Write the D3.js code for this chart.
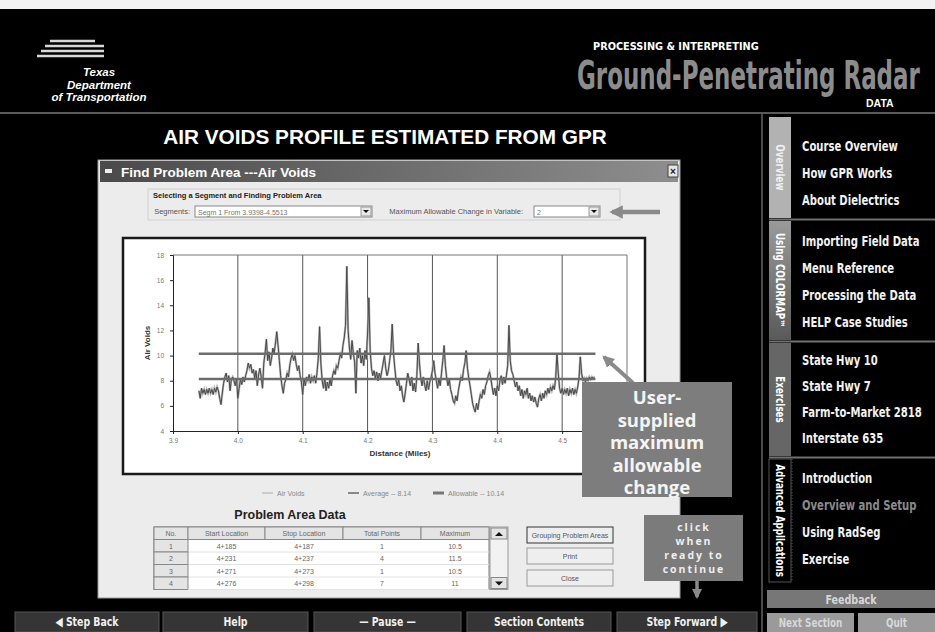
<!DOCTYPE html>
<html><head><meta charset="utf-8">
<script src="https://cdn.jsdelivr.net/npm/d3@7"></script>
<style>
html,body{margin:0;padding:0;background:#000;}
svg{display:block;}
</style></head>
<body><svg id="c" width="935" height="632"></svg>
<script>
// ---------------- DATA ----------------
const chartTitle = "AIR VOIDS PROFILE ESTIMATED FROM GPR";
const dialogTitle = "Find Problem Area ---Air Voids";
const segmentLabel = "Segm 1  From 3.9398-4.5513";
const segmentStart = 3.9398, segmentEnd = 4.5513;
const averageValue = 8.14;
const maxAllowableChange = 2;
const allowableValue = 10.14;
const xTicks = [3.9, 4.0, 4.1, 4.2, 4.3, 4.4, 4.5];
const yTicks = [4, 6, 8, 10, 12, 14, 16, 18];
const airVoidsProfile = [
[3.940,7.2],[3.942,6.6],[3.944,7.4],[3.946,7.0],[3.948,7.3],[3.950,6.9],[3.952,7.3],[3.954,7.0],[3.956,7.4],[3.958,7.0],
[3.960,7.3],[3.962,6.9],[3.964,7.4],[3.966,7.1],[3.968,7.5],[3.970,7.2],[3.972,6.6],[3.974,6.1],[3.976,7.0],[3.978,7.8],
[3.980,8.3],[3.982,8.6],[3.984,7.9],[3.986,8.4],[3.988,7.2],[3.990,8.1],[3.992,8.3],[3.994,8.0],[3.996,7.6],[3.998,8.2],
[4.000,6.6],[4.002,7.4],[4.004,8.1],[4.006,7.7],[4.008,8.3],[4.010,7.9],[4.012,8.4],[4.014,8.8],[4.016,9.4],[4.018,9.0],
[4.020,9.3],[4.022,8.6],[4.024,8.9],[4.026,8.2],[4.028,8.8],[4.030,7.6],[4.032,8.5],[4.034,9.0],[4.036,8.3],[4.038,7.4],
[4.040,9.4],[4.042,10.2],[4.044,11.3],[4.046,9.6],[4.048,10.3],[4.050,9.2],[4.052,9.8],[4.054,10.6],[4.056,10.2],[4.058,11.0],
[4.060,11.9],[4.062,10.8],[4.064,9.6],[4.066,8.4],[4.068,7.6],[4.070,7.0],[4.072,7.8],[4.074,8.1],[4.076,8.6],[4.078,8.3],
[4.080,9.2],[4.082,9.8],[4.084,10.1],[4.086,9.6],[4.088,10.0],[4.090,9.3],[4.092,8.8],[4.094,9.2],[4.096,8.4],[4.098,7.9],
[4.100,6.9],[4.102,8.2],[4.104,7.6],[4.106,8.3],[4.108,8.0],[4.110,8.5],[4.112,7.8],[4.114,8.3],[4.116,8.0],[4.118,8.4],
[4.120,7.8],[4.122,8.6],[4.124,9.8],[4.126,12.3],[4.128,9.4],[4.130,8.0],[4.132,7.4],[4.134,8.2],[4.136,7.2],[4.138,7.9],
[4.140,7.4],[4.142,8.1],[4.144,7.6],[4.146,8.4],[4.148,8.8],[4.150,8.5],[4.152,9.2],[4.154,9.0],[4.156,9.6],[4.158,10.1],
[4.160,9.8],[4.162,10.8],[4.164,11.4],[4.166,12.4],[4.168,17.1],[4.170,12.0],[4.172,10.6],[4.174,9.7],[4.176,11.2],[4.178,10.2],
[4.180,9.5],[4.182,7.0],[4.184,10.4],[4.186,9.8],[4.188,10.6],[4.190,9.4],[4.192,10.0],[4.194,9.2],[4.196,10.4],[4.198,9.7],
[4.200,11.8],[4.202,14.6],[4.204,10.4],[4.206,9.0],[4.208,8.4],[4.210,8.8],[4.212,8.2],[4.214,8.7],[4.216,8.0],[4.218,8.6],
[4.220,8.2],[4.222,8.8],[4.224,9.4],[4.226,10.0],[4.228,9.0],[4.230,8.4],[4.232,8.8],[4.234,9.6],[4.236,10.4],[4.238,12.5],
[4.240,10.2],[4.242,9.0],[4.244,8.0],[4.246,7.6],[4.248,8.1],[4.250,7.2],[4.252,7.6],[4.254,6.8],[4.256,6.3],[4.258,7.0],
[4.260,7.8],[4.262,8.6],[4.264,8.1],[4.266,7.6],[4.268,8.3],[4.270,7.2],[4.272,7.8],[4.274,7.1],[4.276,8.4],[4.278,11.0],
[4.280,9.4],[4.282,8.2],[4.284,7.6],[4.286,8.3],[4.288,7.7],[4.290,7.2],[4.292,8.0],[4.294,7.3],[4.296,7.9],[4.298,8.3],
[4.300,8.8],[4.302,9.6],[4.304,8.6],[4.306,8.0],[4.308,7.4],[4.310,8.2],[4.312,7.6],[4.314,8.6],[4.316,9.6],[4.318,10.8],
[4.320,9.2],[4.322,8.2],[4.324,7.6],[4.326,8.1],[4.328,7.3],[4.330,6.9],[4.332,6.4],[4.334,6.2],[4.336,6.8],[4.338,6.4],
[4.340,7.2],[4.342,7.8],[4.344,8.3],[4.346,8.0],[4.348,8.9],[4.350,9.4],[4.352,10.4],[4.354,9.0],[4.356,8.2],[4.358,7.6],
[4.360,6.9],[4.362,6.2],[4.364,5.8],[4.366,5.5],[4.368,6.2],[4.370,5.7],[4.372,6.4],[4.374,6.9],[4.376,6.6],[4.378,7.3],
[4.380,6.9],[4.382,7.6],[4.384,7.9],[4.386,8.4],[4.388,8.7],[4.390,8.2],[4.392,7.5],[4.394,6.9],[4.396,7.4],[4.398,6.8],
[4.400,7.6],[4.402,7.2],[4.404,8.0],[4.406,8.4],[4.408,7.7],[4.410,8.3],[4.412,7.8],[4.414,8.4],[4.416,9.2],[4.418,12.4],
[4.420,9.6],[4.422,8.8],[4.424,8.5],[4.426,8.0],[4.428,7.5],[4.430,7.9],[4.432,7.2],[4.434,7.6],[4.436,6.8],[4.438,7.3],
[4.440,6.6],[4.442,7.2],[4.444,6.9],[4.446,7.4],[4.448,6.6],[4.450,7.0],[4.452,6.4],[4.454,6.8],[4.456,6.3],[4.458,6.7],
[4.460,6.2],[4.462,5.9],[4.464,6.6],[4.466,6.9],[4.468,6.4],[4.470,7.0],[4.472,6.6],[4.474,7.2],[4.476,6.9],[4.478,7.4],
[4.480,7.0],[4.482,7.5],[4.484,7.2],[4.486,7.6],[4.488,7.3],[4.490,8.2],[4.492,10.2],[4.494,8.6],[4.496,7.4],[4.498,7.0],
[4.500,7.4],[4.502,6.9],[4.504,7.3],[4.506,7.0],[4.508,7.4],[4.510,6.8],[4.512,7.3],[4.514,7.0],[4.516,7.4],[4.518,6.9],
[4.520,7.3],[4.522,7.0],[4.524,7.5],[4.526,8.2],[4.528,9.9],[4.530,8.6],[4.532,8.0],[4.534,8.2],[4.536,7.9],[4.538,8.2],
[4.540,8.0],[4.542,8.3],[4.544,8.1],[4.546,8.3],[4.548,8.2],[4.550,8.3]
];
const tableColumns = ["No.", "Start Location", "Stop Location", "Total Points", "Maximum"];
const tableRows = [
  ["1", "4+185", "4+187", "1", "10.5"],
  ["2", "4+231", "4+237", "4", "11.5"],
  ["3", "4+271", "4+273", "1", "10.5"],
  ["4", "4+276", "4+298", "7", "11"]
];
const dialogButtons = ["Grouping Problem Areas", "Print", "Close"];
const navButtons = ["\u25C0 Step Back", "Help", "\u2014 Pause \u2014", "Section Contents", "Step Forward \u25B6"];
const sideTabs = ["Overview", "Using COLORMAP\u2122", "Exercises", "Advanced Applications"];
const overviewItems = ["Course Overview", "How GPR Works", "About Dielectrics"];
const colormapItems = ["Importing Field Data", "Menu Reference", "Processing the Data", "HELP Case Studies"];
const exerciseItems = ["State Hwy 10", "State Hwy 7", "Farm-to-Market 2818", "Interstate 635"];
const advancedItems = ["Introduction", "Overview and Setup", "Using RadSeg", "Exercise"];
const annotationLines = ["User-", "supplied", "maximum", "allowable", "change"];
const continueLines = ["click", "when", "ready to", "continue"];
const logoLines = ["Texas", "Department", "of Transportation"];

// ---------------- DRAWING ----------------
const COND = "'Liberation Sans Narrow','Arial Narrow','DejaVu Sans Condensed',sans-serif";
const SANS = "'Liberation Sans',Arial,'DejaVu Sans',sans-serif";
const svg = d3.select("#c");

// horizontally squeezed text (emulates a condensed face)
function sq(parent, txt, x, y, opts) {
  const t = parent.append("text").attr("x", 0).attr("y", 0)
    .attr("font-family", opts.family || COND).attr("font-weight", opts.weight || "bold")
    .attr("font-size", opts.size).attr("fill", opts.fill || "#fff")
    .attr("text-anchor", opts.anchor || "start").text(txt);
  let s = opts.scale || 1;
  if (opts.width) s = opts.width / t.node().getComputedTextLength();
  if (opts.max) s = Math.min(s, opts.max / t.node().getComputedTextLength());
  t.attr("transform", `translate(${x},${y}) scale(${s},1)`);
  return t;
}

const defs = svg.append("defs");
const tg = defs.append("linearGradient").attr("id", "tbar").attr("x1", 0).attr("x2", 1);
tg.append("stop").attr("offset", 0).attr("stop-color", "#4a4a4a");
tg.append("stop").attr("offset", 1).attr("stop-color", "#8e8e8e");
const cg = defs.append("linearGradient").attr("id", "cmap").attr("x1", 0).attr("x2", 0).attr("y1", 0).attr("y2", 1);
cg.append("stop").attr("offset", 0).attr("stop-color", "#9a9a9a");
cg.append("stop").attr("offset", 1).attr("stop-color", "#5a5a5a");
const ah = defs.append("marker").attr("id", "ah").attr("viewBox", "0 0 10 10").attr("refX", 8).attr("refY", 5)
  .attr("markerWidth", 3).attr("markerHeight", 3).attr("orient", "auto");
ah.append("path").attr("d", "M0,0L10,5L0,10z").attr("fill", "#8a8a8a");

// background
svg.append("rect").attr("width", 935).attr("height", 632).attr("fill", "#000");
svg.append("rect").attr("width", 935).attr("height", 9).attr("fill", "#f2f2f2");
svg.append("line").attr("x1", 0).attr("x2", 935).attr("y1", 113).attr("y2", 113).attr("stroke", "#5a5a5a").attr("stroke-width", 2);

// header logo
[[50, 95, 41], [45, 104, 46], [41, 104, 51], [37, 104, 56]].forEach(([a, b, y]) =>
  svg.append("line").attr("x1", a).attr("x2", b).attr("y1", y).attr("y2", y).attr("stroke", "#d8d8d8").attr("stroke-width", 2.5));
svg.selectAll("text.logo").data(logoLines).join("text").attr("class", "logo")
  .attr("x", 99).attr("y", (d, i) => 76 + i * 12.5).attr("text-anchor", "middle")
  .attr("fill", "#fff").attr("font-family", SANS).attr("font-weight", "bold").attr("font-style", "italic")
  .attr("font-size", 11.5).text(d => d);

sq(svg, "PROCESSING & INTERPRETING", 593, 50, { size: 11, width: 166 });
sq(svg, "Ground-Penetrating Radar", 577, 89, { size: 39, width: 343, fill: "#8c8c8c" });
svg.append("text").attr("x", 866).attr("y", 107).attr("fill", "#fff").attr("font-family", SANS)
  .attr("font-weight", "bold").attr("font-size", 10.5).text("DATA");

// page title
sq(svg, chartTitle, 385, 144, { family: SANS, size: 19.5, width: 444, anchor: "middle" });

// ---------------- dialog ----------------
svg.append("rect").attr("x", 98).attr("y", 160).attr("width", 582).attr("height", 438)
  .attr("fill", "#ececec").attr("stroke", "#9a9a9a");
svg.append("rect").attr("x", 100).attr("y", 161).attr("width", 578).attr("height", 21).attr("fill", "url(#tbar)");
svg.append("rect").attr("x", 105).attr("y", 169).attr("width", 7).attr("height", 4).attr("fill", "#eee");
svg.append("text").attr("x", 121).attr("y", 177).attr("fill", "#fff").attr("font-family", SANS)
  .attr("font-weight", "bold").attr("font-size", 13.5).text(dialogTitle);
svg.append("rect").attr("x", 668).attr("y", 165).attr("width", 10).attr("height", 12).attr("fill", "#e6e6e6").attr("stroke", "#444");
svg.append("text").attr("x", 673).attr("y", 175).attr("text-anchor", "middle").attr("font-size", 10)
  .attr("font-family", SANS).attr("font-weight", "bold").attr("fill", "#222").text("\u00d7");

// group box
svg.append("rect").attr("x", 148).attr("y", 189).attr("width", 472).attr("height", 31)
  .attr("fill", "none").attr("stroke", "#d0d0d0");
svg.append("rect").attr("x", 150).attr("y", 191).attr("width", 180).attr("height", 8).attr("fill", "#ececec");
svg.append("text").attr("x", 153).attr("y", 198).attr("font-family", SANS).attr("font-weight", "bold")
  .attr("font-size", 7.5).attr("fill", "#222").text("Selecting a Segment and Finding Problem Area");
svg.append("text").attr("x", 190).attr("y", 214).attr("text-anchor", "end").attr("font-family", SANS)
  .attr("font-size", 7.5).attr("fill", "#555").text("Segments:");
function combo(x, w, label) {
  svg.append("rect").attr("x", x).attr("y", 206).attr("width", w).attr("height", 11).attr("fill", "#fff").attr("stroke", "#888");
  svg.append("text").attr("x", x + 3).attr("y", 214.5).attr("font-family", SANS).attr("font-size", 7).attr("fill", "#777").text(label);
  svg.append("rect").attr("x", x + w - 11).attr("y", 207).attr("width", 10).attr("height", 9).attr("fill", "#e8e8e8").attr("stroke", "#999");
  svg.append("path").attr("d", `M${x + w - 9},210l3,3l3,-3z`).attr("fill", "#111");
}
combo(195, 177, segmentLabel);
svg.append("text").attr("x", 523).attr("y", 214).attr("text-anchor", "end").attr("font-family", SANS)
  .attr("font-size", 7.5).attr("fill", "#555").text("Maximum Allowable Change in Variable:");
combo(534, 66, String(maxAllowableChange));
svg.append("line").attr("x1", 660).attr("x2", 612).attr("y1", 212).attr("y2", 212)
  .attr("stroke", "#8a8a8a").attr("stroke-width", 4.5).attr("marker-end", "url(#ah)");

// chart frame
svg.append("rect").attr("x", 123).attr("y", 238).attr("width", 522).attr("height", 236)
  .attr("fill", "#fff").attr("stroke", "#1a1a1a").attr("stroke-width", 2.5);

const x = d3.scaleLinear().domain([3.9, 4.6]).range([173, 627]);
const y = d3.scaleLinear().domain([4, 18]).range([431, 255]);
const g = svg.append("g");

// vertical gridlines
g.selectAll("line.vg").data(xTicks.slice(1)).join("line").attr("class", "vg")
  .attr("x1", d => x(d)).attr("x2", d => x(d)).attr("y1", y(18)).attr("y2", y(4))
  .attr("stroke", "#555").attr("stroke-width", 1);
// plot border (top/right)
g.append("path").attr("d", `M${x(3.9)},${y(18)}H${x(4.6)}V${y(4)}`).attr("fill", "none").attr("stroke", "#777");

const xAxis = g.append("g").attr("transform", `translate(0,${y(4)})`)
  .call(d3.axisBottom(x).tickValues(xTicks).tickFormat(d3.format(".1f")).tickSize(3).tickPadding(4));
const yAxis = g.append("g").attr("transform", `translate(${x(3.9)},0)`)
  .call(d3.axisLeft(y).tickValues(yTicks).tickFormat(d3.format("d")).tickSize(3).tickPadding(6));
[xAxis, yAxis].forEach(a => {
  a.select(".domain").attr("stroke", "#222");
  a.selectAll(".tick line").attr("stroke", "#222");
  a.selectAll("text").attr("font-family", SANS).attr("font-size", 6.5).attr("fill", "#777");
});

// series
const line = d3.line().x(d => x(d[0])).y(d => y(d[1]));
g.append("path").datum(airVoidsProfile).attr("d", line).attr("fill", "none")
  .attr("stroke", "#b4b4b4").attr("stroke-width", 2.2);
g.append("path").datum(airVoidsProfile).attr("d", line).attr("fill", "none")
  .attr("stroke", "#4a4a4a").attr("stroke-width", 1);

// average & allowable lines
[averageValue, allowableValue].forEach(v =>
  g.append("line").attr("x1", x(segmentStart)).attr("x2", x(segmentEnd)).attr("y1", y(v)).attr("y2", y(v))
    .attr("stroke", "#6c6c6c").attr("stroke-width", 2.6));

// axis titles
g.append("text").attr("transform", `translate(150,${(y(4) + y(18)) / 2}) rotate(-90)`).attr("text-anchor", "middle")
  .attr("font-family", SANS).attr("font-weight", "bold").attr("font-size", 8).attr("fill", "#333").text("Air Voids");
g.append("text").attr("x", (x(3.9) + x(4.6)) / 2).attr("y", 456).attr("text-anchor", "middle")
  .attr("font-family", SANS).attr("font-weight", "bold").attr("font-size", 8).attr("fill", "#333").text("Distance (Miles)");

// legend
const legendItems = [
  { label: "Air Voids", x: 262, w: 1, c: "#aaa" },
  { label: "Average -- " + averageValue, x: 348, w: 2, c: "#888" },
  { label: "Allowable -- " + allowableValue, x: 433, w: 3, c: "#777" }
];
legendItems.forEach(l => {
  svg.append("line").attr("x1", l.x).attr("x2", l.x + 11).attr("y1", 493).attr("y2", 493).attr("stroke", l.c).attr("stroke-width", l.w);
  svg.append("text").attr("x", l.x + 15).attr("y", 495.5).attr("font-family", SANS).attr("font-size", 7).attr("fill", "#888").text(l.label);
});

// table
svg.append("text").attr("x", 290).attr("y", 519).attr("text-anchor", "middle").attr("font-family", SANS)
  .attr("font-weight", "bold").attr("font-size", 12.5).attr("fill", "#222").text("Problem Area Data");
const colEdges = [154, 188, 265, 343, 421, 489];
const rowTop = 527, headH = 12.5, rowH = 12.5;
const tbl = svg.append("g");
tbl.append("rect").attr("x", 154).attr("y", rowTop).attr("width", 335).attr("height", headH + rowH * 4)
  .attr("fill", "#fff").attr("stroke", "#777");
tableColumns.forEach((c, i) => {
  tbl.append("rect").attr("x", colEdges[i]).attr("y", rowTop).attr("width", colEdges[i + 1] - colEdges[i]).attr("height", headH)
    .attr("fill", "#e4e4e4").attr("stroke", "#888");
  tbl.append("text").attr("x", (colEdges[i] + colEdges[i + 1]) / 2).attr("y", rowTop + 9).attr("text-anchor", "middle")
    .attr("font-family", SANS).attr("font-size", 7).attr("fill", "#666").text(c);
});
tableRows.forEach((r, j) => {
  const top = rowTop + headH + j * rowH;
  tbl.append("rect").attr("x", colEdges[0]).attr("y", top).attr("width", colEdges[1] - colEdges[0]).attr("height", rowH)
    .attr("fill", "#e4e4e4").attr("stroke", "#888");
  tbl.append("line").attr("x1", colEdges[1]).attr("x2", colEdges[5]).attr("y1", top + rowH).attr("y2", top + rowH).attr("stroke", "#e2e2e2");
  r.forEach((v, i) => {
    tbl.append("text").attr("x", (colEdges[i] + colEdges[i + 1]) / 2).attr("y", top + 9).attr("text-anchor", "middle")
      .attr("font-family", SANS).attr("font-size", 7).attr("fill", "#666").text(v);
  });
});
// scrollbar
tbl.append("rect").attr("x", 490).attr("y", rowTop).attr("width", 18).attr("height", headH + rowH * 4).attr("fill", "#f2f2f2").attr("stroke", "#999");
tbl.append("rect").attr("x", 491).attr("y", rowTop + 1).attr("width", 16).attr("height", 11).attr("fill", "#e4e4e4").attr("stroke", "#888");
tbl.append("path").attr("d", `M495,${rowTop + 9}l4,-4l4,4z`).attr("fill", "#111");
tbl.append("rect").attr("x", 491).attr("y", rowTop + headH + rowH * 4 - 12).attr("width", 16).attr("height", 11).attr("fill", "#e4e4e4").attr("stroke", "#888");
tbl.append("path").attr("d", `M495,${rowTop + headH + rowH * 4 - 8}l4,4l4,-4z`).attr("fill", "#111");

// dialog buttons
const btnY = [527, 548, 570];
dialogButtons.forEach((b, i) => {
  svg.append("rect").attr("x", 527).attr("y", btnY[i]).attr("width", 86).attr("height", 16)
    .attr("fill", "#eee").attr("stroke", i === 0 ? "#333" : "#999");
  svg.append("text").attr("x", 570).attr("y", btnY[i] + 11).attr("text-anchor", "middle")
    .attr("font-family", SANS).attr("font-size", 7).attr("fill", "#555").text(b);
});

// annotation: user-supplied
svg.append("line").attr("x1", 633).attr("y1", 383).attr("x2", 604).attr("y2", 357)
  .attr("stroke", "#8a8a8a").attr("stroke-width", 4).attr("marker-end", "url(#ah)");
svg.append("rect").attr("x", 582).attr("y", 382).attr("width", 150).attr("height", 115).attr("fill", "#7d7d7d");
svg.selectAll("text.ann").data(annotationLines).join("text").attr("class", "ann")
  .attr("x", 657).attr("y", (d, i) => 404 + i * 22.6).attr("text-anchor", "middle")
  .attr("font-family", "'Open Sans',Verdana,sans-serif").attr("font-weight", "bold").attr("font-size", 18.5)
  .attr("fill", "#f4f4f4").text(d => d);

// annotation: click to continue
svg.append("rect").attr("x", 644).attr("y", 515).attr("width", 99).attr("height", 66).attr("fill", "#7b7b7b");
svg.selectAll("text.cont").data(continueLines).join("text").attr("class", "cont")
  .attr("x", 694).attr("y", (d, i) => 531 + i * 14).attr("text-anchor", "middle")
  .attr("font-family", "'Open Sans',Verdana,sans-serif").attr("font-weight", "bold").attr("font-size", 10.5).attr("letter-spacing", 2)
  .attr("fill", "#eee").text(d => d);
svg.append("line").attr("x1", 697).attr("x2", 697).attr("y1", 581).attr("y2", 597)
  .attr("stroke", "#8a8a8a").attr("stroke-width", 3.5).attr("marker-end", "url(#ah)");

// ---------------- sidebar ----------------
svg.append("line").attr("x1", 762).attr("x2", 762).attr("y1", 114).attr("y2", 632).attr("stroke", "#4a4a4a").attr("stroke-width", 2);
const tabSpec = [
  { y0: 117, y1: 218, fill: "#b2b2b2", items: overviewItems, iy: [146, 173, 200] },
  { y0: 221, y1: 340, fill: "url(#cmap)", items: colormapItems, iy: [241, 268, 295, 322] },
  { y0: 343, y1: 456, fill: "#666", items: exerciseItems, iy: [360, 386, 412, 438] },
  { y0: 459, y1: 582, fill: "#000", items: advancedItems, iy: [478, 505, 532, 559] }
];
tabSpec.forEach((t, k) => {
  svg.append("rect").attr("x", 769).attr("y", t.y0).attr("width", 22).attr("height", t.y1 - t.y0)
    .attr("fill", t.fill).attr("stroke", k === 3 ? "#555" : "none");
  const tg2 = svg.append("g").attr("transform", `translate(776,${(t.y0 + t.y1) / 2}) rotate(90)`);
  sq(tg2, sideTabs[k], 0, 0, { size: 11.5, anchor: "middle", scale: 0.85, max: t.y1 - t.y0 - 6, fill: k === 0 ? "#f0f0f0" : "#fff" });
  if (k < 3) svg.append("line").attr("x1", 769).attr("x2", 935).attr("y1", t.y1 + 1.5).attr("y2", t.y1 + 1.5)
    .attr("stroke", "#707070").attr("stroke-width", 2);
  t.items.forEach((it, i) => {
    sq(svg, it, 802, t.iy[i] + 5, { size: 14, scale: 0.8, max: 127, fill: (k === 3 && i === 1) ? "#8a8a8a" : "#f2f2f2" });
  });
});
svg.append("line").attr("x1", 792).attr("x2", 792).attr("y1", 459).attr("y2", 582).attr("stroke", "#555").attr("stroke-dasharray", "1,2");

svg.append("rect").attr("x", 767).attr("y", 590).attr("width", 168).attr("height", 18).attr("fill", "#777");
sq(svg, "Feedback", 851, 603.5, { size: 12.5, anchor: "middle", scale: 0.85, fill: "#d6d6d6" });
[["Next Section", 767, 87], ["Quit", 858, 77]].forEach(([l, bx, bw]) => {
  svg.append("rect").attr("x", bx).attr("y", 613).attr("width", bw).attr("height", 19).attr("fill", "#9a9a9a");
  sq(svg, l, bx + bw / 2, 627, { size: 12, anchor: "middle", scale: 0.82, max: bw - 8, fill: "#d8d8d8" });
});

// bottom nav
const navX = [[15, 159], [163, 308], [314, 461], [467, 611], [617, 757]];
navButtons.forEach((b, i) => {
  svg.append("rect").attr("x", navX[i][0]).attr("y", 612).attr("width", navX[i][1] - navX[i][0]).attr("height", 20)
    .attr("fill", "#353535").attr("stroke", "#575757");
  sq(svg, b, (navX[i][0] + navX[i][1]) / 2, 626, { size: 13, anchor: "middle", scale: 0.8, fill: "#f0f0f0" });
});
</script>
</body></html>
